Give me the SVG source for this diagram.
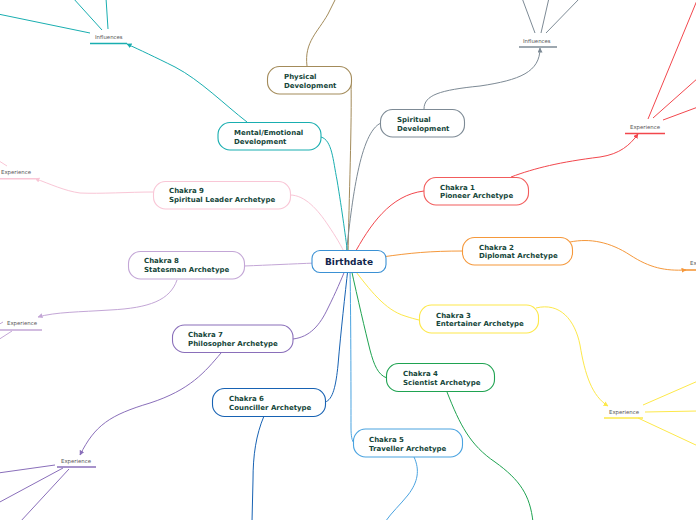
<svg xmlns="http://www.w3.org/2000/svg" width="696" height="520" viewBox="0 0 696 520">
<style>
.n{fill:#fff;stroke-width:1.1}
.t{font-family:"DejaVu Sans",Verdana,sans-serif;font-weight:bold;font-size:7px;fill:#15463a}
.s{font-family:"DejaVu Sans",Verdana,sans-serif;font-size:5.4px;fill:#555}
.c{fill:none;stroke-width:1}
.u{stroke-width:1.6;fill:none}
</style>
<defs>
<marker id="aTeal" viewBox="0 0 10 10" refX="9" refY="5" markerWidth="5" markerHeight="5" orient="auto" markerUnits="userSpaceOnUse"><path d="M0,0L10,5L0,10z" fill="#19aeb0"/></marker>
<marker id="aGray" viewBox="0 0 10 10" refX="9" refY="5" markerWidth="5" markerHeight="5" orient="auto" markerUnits="userSpaceOnUse"><path d="M0,0L10,5L0,10z" fill="#7d8a95"/></marker>
<marker id="aRed" viewBox="0 0 10 10" refX="9" refY="5" markerWidth="5" markerHeight="5" orient="auto" markerUnits="userSpaceOnUse"><path d="M0,0L10,5L0,10z" fill="#f2474d"/></marker>
<marker id="aOrange" viewBox="0 0 10 10" refX="9" refY="5" markerWidth="5" markerHeight="5" orient="auto" markerUnits="userSpaceOnUse"><path d="M0,0L10,5L0,10z" fill="#f5983b"/></marker>
<marker id="aPink" viewBox="0 0 10 10" refX="9" refY="5" markerWidth="5" markerHeight="5" orient="auto" markerUnits="userSpaceOnUse"><path d="M0,0L10,5L0,10z" fill="#f9c6d6"/></marker>
<marker id="aLpur" viewBox="0 0 10 10" refX="9" refY="5" markerWidth="5" markerHeight="5" orient="auto" markerUnits="userSpaceOnUse"><path d="M0,0L10,5L0,10z" fill="#c3a6d6"/></marker>
<marker id="aPur" viewBox="0 0 10 10" refX="9" refY="5" markerWidth="5" markerHeight="5" orient="auto" markerUnits="userSpaceOnUse"><path d="M0,0L10,5L0,10z" fill="#8a6fba"/></marker>
<marker id="aYel" viewBox="0 0 10 10" refX="9" refY="5" markerWidth="5" markerHeight="5" orient="auto" markerUnits="userSpaceOnUse"><path d="M0,0L10,5L0,10z" fill="#fde84a"/></marker>
</defs>
<rect width="696" height="520" fill="#fff"/>
<g id="connectors">
<!-- Physical -->
<path class="c" stroke="#a38b5a" d="M348,256 C349,200 352,120 351,82"/>
<path class="c" stroke="#a38b5a" d="M307,66 C304,42 318,32 328,14 L336,-2"/>
<!-- Spiritual -->
<path class="c" stroke="#7d8a95" d="M346,256 C352,200 360,132 381,123"/>
<path class="c" stroke="#7d8a95" d="M424,109 C424,95 440,90 480,86 C520,80 540,72 540,48" marker-end="url(#aGray)"/>
<path class="c" stroke="#7d8a95" d="M535,33 L522,-2"/>
<path class="c" stroke="#7d8a95" d="M541,33 L549,-2"/>
<path class="c" stroke="#7d8a95" d="M546,33 L580,-2"/>
<!-- Mental -->
<path class="c" stroke="#19aeb0" d="M321,137 C332,140 333,160 337,180 C342,210 346,240 348,256"/>
<path class="c" stroke="#19aeb0" d="M247,122 C225,105 200,80 175,67 C155,57 140,50 127,44" marker-end="url(#aTeal)"/>
<path class="c" stroke="#19aeb0" d="M90,33 L-2,14"/>
<path class="c" stroke="#19aeb0" d="M102,30 L73,-2"/>
<path class="c" stroke="#19aeb0" d="M108,29 L106,-2"/>
<!-- Chakra 9 -->
<path class="c" stroke="#f9c6d6" d="M290,195 C305,195 318,210 328,225 C336,237 341,245 346,256"/>
<path class="c" stroke="#f9c6d6" d="M153,192 C130,192 100,194 80,193 C65,191 50,184 35,178.5" marker-end="url(#aPink)"/>
<path class="c" stroke="#f9c6d6" d="M-4,159 L7,166"/>
<!-- Chakra 8 -->
<path class="c" stroke="#c3a6d6" d="M244,266 C270,265 290,264 316,263"/>
<path class="c" stroke="#c3a6d6" d="M177,280 C170,300 150,308 110,310 C80,312 55,312 38,317" marker-end="url(#aLpur)"/>
<path class="c" stroke="#c3a6d6" d="M-2,340 L12,331"/>
<path class="c" stroke="#c3a6d6" d="M-2,325 L3,322"/>
<!-- Chakra 7 -->
<path class="c" stroke="#8a6fba" d="M293,339 C310,337 320,325 328,308 C336,292 341,280 346,268"/>
<path class="c" stroke="#8a6fba" d="M221,353 C205,372 190,390 150,403 C110,415 95,425 80,455" marker-end="url(#aPur)"/>
<path class="c" stroke="#8a6fba" d="M55,465 L-2,473"/>
<path class="c" stroke="#8a6fba" d="M63,468 L-2,503"/>
<path class="c" stroke="#8a6fba" d="M69,469 L20,522"/>
<!-- Chakra 6 -->
<path class="c" stroke="#1762b3" d="M325,402 C333,400 336,385 338,365 C341,330 345,295 348,268"/>
<path class="c" stroke="#1762b3" d="M264,416 C256,435 253,455 253,480 L252,522"/>
<!-- Chakra 5 -->
<path class="c" stroke="#4aa3e0" d="M350,268 C351,330 351,400 351,428 C351,436 352,441 354,443"/>
<path class="c" stroke="#4aa3e0" d="M414,457 C420,470 418,482 408,495 C400,505 392,512 385,522"/>
<!-- Chakra 4 -->
<path class="c" stroke="#1fa351" d="M351,268 C358,300 365,330 370,350 C374,365 378,375 387,378"/>
<path class="c" stroke="#1fa351" d="M447,392 C460,425 470,445 495,462 C520,480 530,495 533,522"/>
<!-- Chakra 3 -->
<path class="c" stroke="#fde84a" d="M353,268 C370,290 385,310 405,316 C411,318 415,319 419,320"/>
<path class="c" stroke="#fde84a" d="M536,308 C560,302 575,320 580,345 C585,375 592,396 608,406" marker-end="url(#aYel)"/>
<path class="c" stroke="#fde84a" d="M643,405 L698,381"/>
<path class="c" stroke="#fde84a" d="M645,412 L698,411"/>
<path class="c" stroke="#fde84a" d="M638,418 L698,446"/>
<!-- Chakra 2 -->
<path class="c" stroke="#f5983b" d="M382,257 C410,253 430,251 463,251"/>
<path class="c" stroke="#f5983b" d="M570,242 C590,238 610,242 630,255 C650,268 665,271 686,270" marker-end="url(#aOrange)"/>
<!-- Chakra 1 -->
<path class="c" stroke="#f2474d" d="M353,256 C370,225 390,195 424,191"/>
<path class="c" stroke="#f2474d" d="M511,177 C535,168 560,162 600,157 C620,154 630,145 638,134" marker-end="url(#aRed)"/>
<path class="c" stroke="#f2474d" d="M648,119 L698,-2"/>
<path class="c" stroke="#f2474d" d="M653,118 L698,78"/>
<path class="c" stroke="#f2474d" d="M663,120 L698,107"/>
</g>
<g id="birthdate">
<rect class="n" x="312" y="250.5" width="74" height="22" rx="8" stroke="#3b91d4"/>
<text x="349" y="265" text-anchor="middle" font-family="DejaVu Sans,Verdana,sans-serif" font-weight="bold" font-size="9" fill="#12254d">Birthdate</text>
</g>
<g id="physical">
<rect class="n" x="267.5" y="66.5" width="84" height="27.5" rx="12" stroke="#a38b5a"/>
<text class="t" x="284"><tspan x="284" y="79">Physical</tspan><tspan x="284" y="88">Development</tspan></text>
</g>
<g id="spiritual">
<rect class="n" x="380.5" y="109.5" width="84" height="27.5" rx="12" stroke="#7d8a95"/>
<text class="t"><tspan x="397" y="122">Spiritual</tspan><tspan x="397" y="131">Development</tspan></text>
</g>
<g id="mental">
<rect class="n" x="218" y="122.5" width="103" height="27.5" rx="12" stroke="#19aeb0"/>
<text class="t"><tspan x="234" y="135">Mental/Emotional</tspan><tspan x="234" y="144">Development</tspan></text>
</g>
<g id="chakra9">
<rect class="n" x="153.5" y="181.5" width="137" height="27.5" rx="12" stroke="#f9c6d6"/>
<text class="t"><tspan x="169" y="193">Chakra 9</tspan><tspan x="169" y="202">Spiritual Leader Archetype</tspan></text>
</g>
<g id="chakra8">
<rect class="n" x="128.5" y="251.5" width="116" height="27.5" rx="12" stroke="#c3a6d6"/>
<text class="t"><tspan x="144" y="263">Chakra 8</tspan><tspan x="144" y="272">Statesman Archetype</tspan></text>
</g>
<g id="chakra7">
<rect class="n" x="172.5" y="325" width="120.5" height="27.5" rx="12" stroke="#8a6fba"/>
<text class="t"><tspan x="188" y="337">Chakra 7</tspan><tspan x="188" y="346">Philosopher Archetype</tspan></text>
</g>
<g id="chakra6">
<rect class="n" x="212.5" y="388.5" width="113" height="28" rx="12" stroke="#1762b3"/>
<text class="t"><tspan x="229" y="401">Chakra 6</tspan><tspan x="229" y="410">Counciller Archetype</tspan></text>
</g>
<g id="chakra5">
<rect class="n" x="353.5" y="429" width="109" height="28" rx="12" stroke="#4aa3e0"/>
<text class="t"><tspan x="369" y="442">Chakra 5</tspan><tspan x="369" y="451">Traveller Archetype</tspan></text>
</g>
<g id="chakra4">
<rect class="n" x="386.5" y="363.5" width="108" height="28" rx="12" stroke="#1fa351"/>
<text class="t"><tspan x="403" y="376">Chakra 4</tspan><tspan x="403" y="385">Scientist Archetype</tspan></text>
</g>
<g id="chakra3">
<rect class="n" x="419.5" y="305" width="119" height="28" rx="12" stroke="#fde84a"/>
<text class="t"><tspan x="436" y="318">Chakra 3</tspan><tspan x="436" y="326">Entertainer Archetype</tspan></text>
</g>
<g id="chakra2">
<rect class="n" x="462.5" y="237.5" width="110" height="27.5" rx="12" stroke="#f5983b"/>
<text class="t"><tspan x="479" y="250">Chakra 2</tspan><tspan x="479" y="258">Diplomat Archetype</tspan></text>
</g>
<g id="chakra1">
<rect class="n" x="424" y="177.5" width="104.5" height="27.5" rx="12" stroke="#f25c5c"/>
<text class="t"><tspan x="440" y="190">Chakra 1</tspan><tspan x="440" y="198">Pioneer Archetype</tspan></text>
</g>
<g id="influences-left">
<text class="s" x="95" y="39">Influences</text>
<path class="u" stroke="#19aeb0" d="M90,43.5H127"/>
</g>
<g id="influences-right">
<text class="s" x="523" y="43">Influences</text>
<path class="u" stroke="#7d8a95" d="M519,47H557"/>
</g>
<g id="experience-red">
<text class="s" x="630" y="129">Experience</text>
<path class="u" stroke="#f2474d" d="M625,133.5H665"/>
</g>
<g id="experience-orange">
<text class="s" x="690" y="265">Experience</text>
<path class="u" stroke="#f5983b" d="M684,270H700"/>
</g>
<g id="experience-pink">
<text class="s" x="1" y="174">Experience</text>
<path class="u" stroke="#f9c6d6" d="M-5,178.7H35"/>
</g>
<g id="experience-lpurple">
<text class="s" x="7" y="325">Experience</text>
<path class="u" stroke="#c3a6d6" d="M-2,330H42"/>
</g>
<g id="experience-purple">
<text class="s" x="61" y="463">Experience</text>
<path class="u" stroke="#8a6fba" d="M57,467H96"/>
</g>
<g id="experience-yellow">
<text class="s" x="609" y="414">Experience</text>
<path class="u" stroke="#fde84a" d="M604,418H643"/>
</g>
</svg>
